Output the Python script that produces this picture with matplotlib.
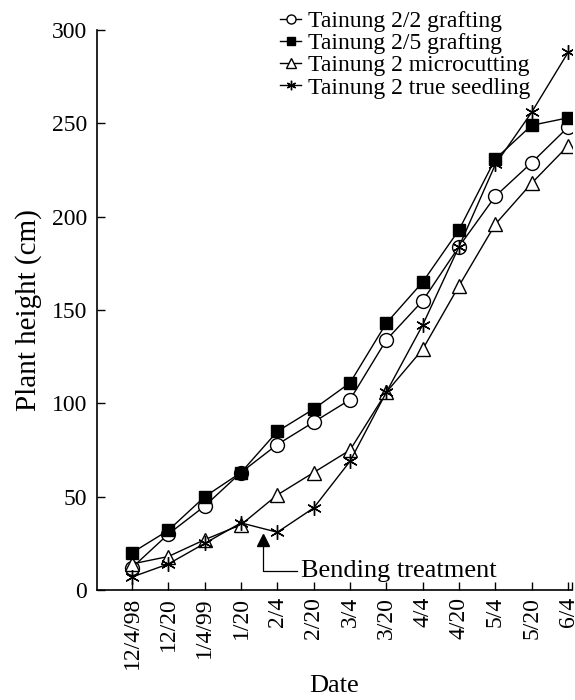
import matplotlib
matplotlib.use("Agg")
import matplotlib.pyplot as plt

dates = ["12/4/98", "12/20", "1/4/99", "1/20", "2/4", "2/20", "3/4", "3/20",
         "4/4", "4/20", "5/4", "5/20", "6/4"]
graft_22 = [12, 30, 45, 63, 78, 90, 102, 134, 155, 184, 211, 229, 248]
graft_25 = [20, 32, 50, 63, 85, 97, 111, 143, 165, 193, 231, 249, 253]
microcut = [14, 18, 27, 35, 51, 63, 75, 106, 129, 163, 196, 218, 238]
seedling = [7, 14, 25, 36, 31, 44, 69, 106, 142, 184, 228, 256, 288]
series_labels = ["Tainung 2/2 grafting", "Tainung 2/5 grafting",
                 "Tainung 2 microcutting", "Tainung 2 true seedling"]
y_ticks = [0, 50, 100, 150, 200, 250, 300]
bend_x, bend_y = 3.6, 27
bend_label = "Bending treatment"

plt.rcParams['font.family'] = ['Liberation Serif', 'DejaVu Serif']
fig = plt.figure(figsize=(5.75, 7), dpi=100)
ax = fig.add_axes([0.1687, 0.157, 0.8261, 0.8])

x = list(range(len(dates)))
lw = 1.0
ax.plot(x, graft_22, color='black', lw=lw, marker='o', ms=10, mfc='white', mec='black', mew=1.0, label=series_labels[0], zorder=3)
ax.plot(x, graft_25, color='black', lw=lw, marker='s', ms=8.5, mfc='black', mec='black', label=series_labels[1], zorder=4)
ax.plot(x, microcut, color='black', lw=lw, marker='^', ms=10, mfc='white', mec='black', mew=1.0, label=series_labels[2], zorder=3)
ax.plot(x, seedling, color='black', lw=lw, marker=(6, 2, 0), ms=10.5, mec='black', mew=1.0, label=series_labels[3], zorder=5)

# bending treatment annotation
ax.plot([bend_x], [bend_y], marker='^', ms=9, color='black', zorder=5)
ax.plot([bend_x, bend_x, bend_x + 0.95], [bend_y - 4, bend_y - 17, bend_y - 17], color='black', lw=0.9)
ax.text(bend_x + 1.05, bend_y - 17, bend_label, fontsize=19, va='center', ha='left')

ax.set_xlim(-0.963, 12.11)
ax.set_ylim(0, 300)
ax.set_xticks(x)
ax.set_xticklabels(dates, rotation=90, fontsize=17)
ax.set_xticks([12.11], minor=True)
ax.set_yticks(y_ticks)
ax.set_yticklabels([str(v) for v in y_ticks], fontsize=17)
ax.tick_params(axis='both', which='both', direction='in', length=6, width=1)
ax.tick_params(axis='y', pad=7)
ax.tick_params(axis='x', pad=5)
ax.tick_params(axis='x', which='minor', labelbottom=False)
for s in ['top', 'right']:
    ax.spines[s].set_visible(False)
for s in ['left', 'bottom']:
    ax.spines[s].set_linewidth(1.2)

ax.set_xlabel("Date", fontsize=19, labelpad=4)
ax.set_ylabel("Plant height (cm)", fontsize=21, labelpad=7)

leg = ax.legend(loc='upper left', bbox_to_anchor=(0.385, 1.035), frameon=False,
                fontsize=17, handlelength=0.9, handletextpad=0.28,
                labelspacing=0.03, borderpad=0.0, borderaxespad=0.0, markerscale=0.65)

fig.savefig("out.png", dpi=100)
